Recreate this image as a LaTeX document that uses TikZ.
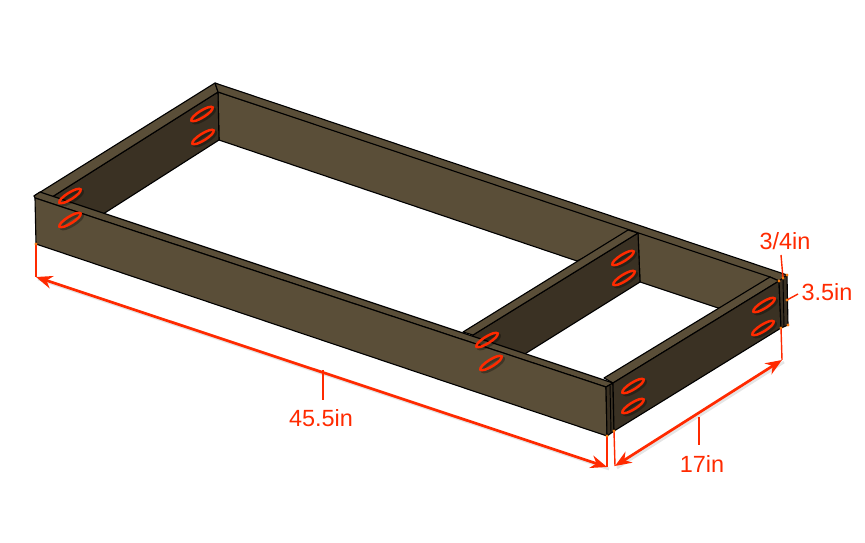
\documentclass[tikz,border=0pt]{standalone}
\usepackage{fontspec}
\setmainfont{Liberation Sans}
\usetikzlibrary{arrows.meta}
\definecolor{woodlight}{HTML}{5A4E38}
\definecolor{wooddark}{HTML}{3A3123}
\definecolor{markred}{HTML}{FF2A00}
\definecolor{markdot}{HTML}{F57A10}
\tikzset{
    woodtop/.style={fill=woodlight,draw=black,line width=0.95pt,line join=round},
    wooddeep/.style={fill=wooddark,draw=black,line width=0.95pt,line join=round},
    witness/.style={draw=markred,line width=1.2pt},
    dimline/.style={draw=markred,line width=2.3pt,{Stealth[length=14pt,width=11pt]}-{Stealth[length=14pt,width=11pt]}},
    dimshade/.style={draw=black,line width=2.3pt,opacity=0.1},
    dimtext/.style={text=markred,font=\fontsize{20}{24}\selectfont,inner sep=0pt},
    screwmark/.style={draw=markred,line width=2.1pt},
    screwshade/.style={draw=black,line width=2.1pt,opacity=0.3},
    enddot/.style={fill=markdot,draw=none}
}
\begin{document}
\begin{tikzpicture}[x=0.03cm,y=-0.03cm]
    \useasboundingbox (0,0) rectangle (865,543);
    % corners of the frame
    \coordinate (LL) at (34,196);
    \coordinate (LB) at (215,83);
    \coordinate (RR) at (787,275);
    \coordinate (FA) at (35,198);
    \coordinate (FB) at (606,387);
    \coordinate (FC) at (607,436);
    \coordinate (FD) at (36,244);
    \coordinate (SA) at (613,383);
    \coordinate (SB) at (779,281);
    \coordinate (SC) at (781,328);
    \coordinate (SD) at (614,431);
    % inner faces
    \draw[woodtop] (218,92) -- (779,278) -- (781,300) -- (718,308) -- (640,282) -- (638,233) -- (577,261) -- (219,140) -- cycle;
    \draw[wooddeep] (52,197) -- (218,92) -- (219,140) -- (100,216) -- (52,205) -- cycle;
    \draw[wooddeep] (473,335) -- (638,233) -- (640,282) -- (520,357) -- (470,345) -- cycle;
    % top faces
    \draw[woodtop] (LL) -- (LB) -- (218,92) -- (52,197) -- cycle;
    \draw[woodtop] (463,332) -- (628,230) -- (638,233) -- (473,335) -- cycle;
    \draw[woodtop] (LB) -- (RR) -- (SB) -- (770,277) -- (218,92) -- cycle;
    \draw[woodtop] (604,378) -- (770,277) -- (SB) -- (SA) -- cycle;
    \draw[woodtop] (LL) -- (40,192) -- (SA) -- (FB) -- (FA) -- cycle;
    % outer faces
    \draw[woodtop] (FA) -- (FB) -- (FC) -- (FD) -- cycle;
    \draw[wooddeep] (FB) -- (SA) -- (SD) -- (FC) -- cycle;
    \draw[wooddeep] (SA) -- (SB) -- (SC) -- (SD) -- cycle;
    \draw[wooddeep] (SB) -- (RR) -- (788,325) -- (SC) -- cycle;
    \draw[black,line width=0.8pt] (610,385) -- (611,433);
    \draw[black,line width=0.8pt] (783,279) -- (784,327);
    % screws
    \foreach \px/\py in {202/114,203/137,70/196,70/220,623/258,624/278,487/340,491/363,764/305,763/328,633/386,633/406} {
        \draw[screwshade] (\px+2,\py+2) ellipse[x radius=12.5,y radius=3.4,rotate=32];
        \draw[screwmark] (\px,\py) ellipse[x radius=12.5,y radius=3.4,rotate=32];
    }
    % dimension ends
    \coordinate (LA) at (36,277);
    \coordinate (LZ) at (607,467);
    \coordinate (WA) at (615,466);
    \coordinate (WZ) at (782,360);
    \draw[dimshade] ([shift={(2,2)}]LA) -- ([shift={(2,2)}]LZ);
    \draw[dimshade] ([shift={(2,2)}]WA) -- ([shift={(2,2)}]WZ);
    \draw[witness] (FD) -- (LA);
    \draw[witness] (FC) -- (LZ);
    \draw[witness] (SD) -- (WA);
    \draw[witness] (SC) -- (WZ);
    \draw[dimline] (LA) -- (LZ);
    \draw[dimline] (WA) -- (WZ);
    % labels
    \node[dimtext] (long) at (321,418) {45.5in};
    \node[dimtext] (wide) at (702,464) {17in};
    \node[dimtext] (thin) at (785,241) {3/4in};
    \node[dimtext] (high) at (827,292) {3.5in};
    \coordinate (longtip) at (323,370);
    \coordinate (widetip) at (699,417);
    \coordinate (thintip) at (783,278);
    \coordinate (hightip) at (787,300);
    \draw[witness] (longtip) -- (323,400);
    \draw[witness] (widetip) -- (699,445);
    \draw[witness] (781,255) -- (thintip);
    \draw[witness] (hightip) -- (798,294);
    \foreach \px/\py in {36/244,607/436,614/431,781/328,788/325,779/281,787/275,783/278,787/300} {
        \fill[enddot] (\px,\py) circle[radius=1.6];
    }
\end{tikzpicture}
\end{document}
